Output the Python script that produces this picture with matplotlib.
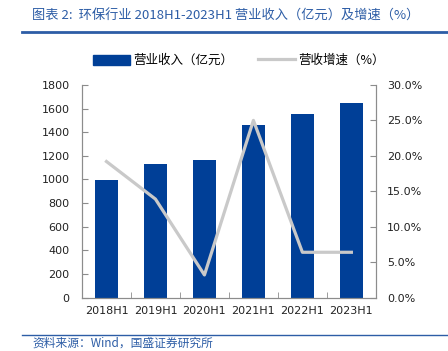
import matplotlib
matplotlib.use('Agg')
import matplotlib.pyplot as plt
from matplotlib.lines import Line2D
from matplotlib.patches import Patch
import matplotlib.ticker as mticker
import numpy as np

plt.rcParams['font.family'] = ['DejaVu Sans', 'Noto Sans CJK SC']

# --- data ---
periods = ['2018H1', '2019H1', '2020H1', '2021H1', '2022H1', '2023H1']
revenue = [995, 1133, 1167, 1459, 1550, 1649]          # 亿元
growth = [0.192, 0.139, 0.032, 0.250, 0.064, 0.064]   # 营收增速

BAR_COLOR = '#003F97'
LINE_COLOR = '#C9C9C9'
TEXT_BLUE = '#2D5DA6'
SPINE = '#8C8C8C'
CJK = ['Noto Sans CJK SC', 'DejaVu Sans']

fig = plt.figure(figsize=(4.48, 3.51), dpi=100)
ax = fig.add_axes([0.183, 0.152, 0.656, 0.606])
ax2 = ax.twinx()

x = np.arange(len(periods))
ax.bar(x, revenue, width=0.47, color=BAR_COLOR, zorder=2)
ax2.plot(x, growth, color=LINE_COLOR, lw=2.3, zorder=3)

# left axis
ax.set_xlim(-0.5, len(periods) - 0.5)
ax.set_ylim(0, 1800)
ax.set_yticks(range(0, 1801, 200))
ax.set_xticks(x)
ax.set_xticklabels(periods)
ax.set_xticks(np.arange(-0.5, len(periods)), minor=True)
ax.tick_params(axis='x', which='major', length=0, pad=6, labelsize=8, colors='#222222')
ax.tick_params(axis='x', which='minor', direction='in', length=4, color=SPINE)
ax.tick_params(axis='y', direction='in', length=4, color=SPINE, labelsize=8, labelcolor='#222222', pad=9)

# right axis
ax2.set_ylim(0, 0.30)
ax2.set_yticks(np.arange(0, 0.301, 0.05))
ax2.yaxis.set_major_formatter(mticker.FuncFormatter(lambda v, p: f'{v*100:.1f}%'))
ax2.tick_params(axis='y', direction='in', length=4, color=SPINE, labelsize=8, labelcolor='#222222', pad=8)

for a in (ax, ax2):
    a.spines['top'].set_visible(False)
    for s in ('left', 'right', 'bottom'):
        a.spines[s].set_color(SPINE)
        a.spines[s].set_linewidth(0.8)

# legend
handles = [Patch(facecolor=BAR_COLOR, edgecolor=BAR_COLOR),
           Line2D([0], [0], color=LINE_COLOR, lw=2.3)]
labels = ['营业收入（亿元）', '营收增速（%）']
fig.legend(handles, labels, loc='center', bbox_to_anchor=(0.534, 0.827), ncol=2,
           frameon=False, prop={'family': CJK, 'size': 9}, handlelength=2.9,
           handleheight=0.9, handletextpad=0.3, columnspacing=2.0)

# title and source
fig.text(0.072, 0.953, '图表 2:  环保行业 2018H1-2023H1 营业收入（亿元）及增速（%）',
         family=CJK, fontsize=9.5, color=TEXT_BLUE, style='italic', va='center')
fig.add_artist(Line2D([0.049, 1.0], [0.909, 0.909], color=TEXT_BLUE, lw=2))
fig.add_artist(Line2D([0.049, 1.0], [0.046, 0.046], color=TEXT_BLUE, lw=1))
fig.text(0.072, 0.022, '资料来源：Wind，国盛证券研究所', family=CJK, fontsize=8.5,
         color=TEXT_BLUE, style='italic', va='center')

fig.savefig('out.png', dpi=100)
